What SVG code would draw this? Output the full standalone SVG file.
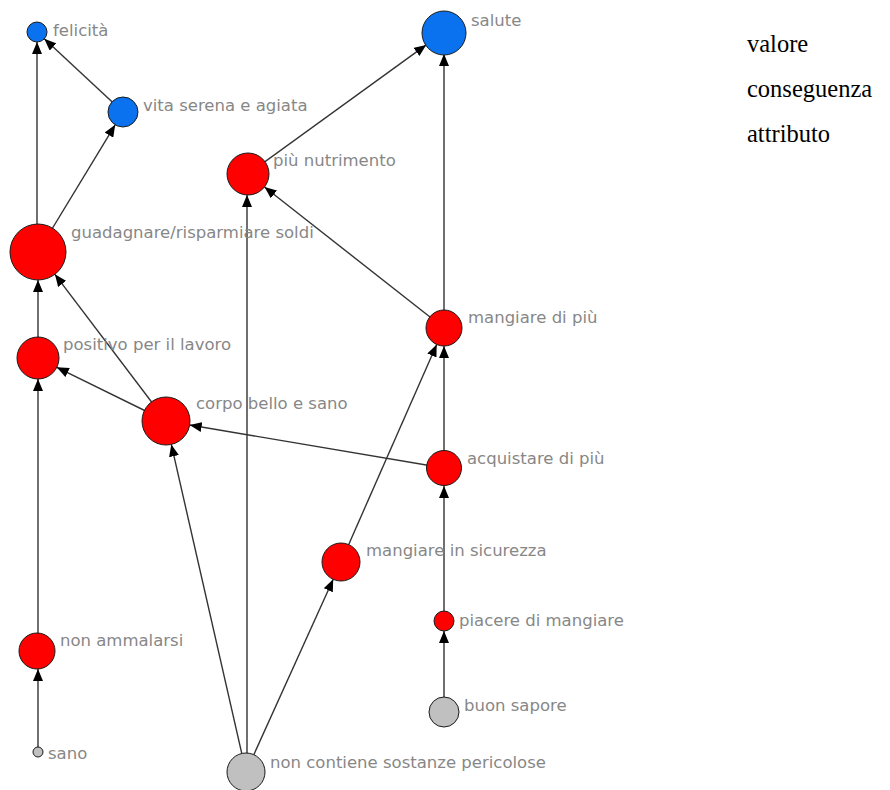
<svg xmlns="http://www.w3.org/2000/svg" width="890" height="790" viewBox="0 0 890 790">
  <defs>
    <marker id="arrow" markerUnits="userSpaceOnUse" markerWidth="12" markerHeight="10" refX="12" refY="5" orient="auto">
      <path d="M0,0 L12,5 L0,10 Z" fill="#000"/>
    </marker>
    <style>
      .edge { stroke: #333; stroke-width: 1.4; fill: none; marker-end: url(#arrow); }
      .node circle { stroke: #1a1a1a; stroke-width: 1; }
      .valore circle { fill: #0a72ee; }
      .conseguenza circle { fill: #ff0000; }
      .attributo circle { fill: #c0c0c0; }
      .node text { font-family: "DejaVu Sans", Tahoma, sans-serif; font-size: 16.5px; fill: #878787; }
      .legend { font-family: "Liberation Serif", "Times New Roman", serif; font-size: 24.5px; fill: #000; }
    </style>
  </defs>
  <rect width="890" height="790" fill="#fff"/>

  <!-- connectors (drawn beneath the nodes) -->
  <g id="connectors">
    <line class="edge" x1="123" y1="112" x2="44.3" y2="38.8"/>
    <line class="edge" x1="37" y1="224" x2="37" y2="42"/>
    <line class="edge" x1="38" y1="252" x2="115.2" y2="124.8"/>
    <line class="edge" x1="248" y1="174" x2="426.2" y2="44.9"/>
    <line class="edge" x1="444" y1="328" x2="444" y2="54"/>
    <line class="edge" x1="444" y1="328" x2="264.5" y2="187"/>
    <line class="edge" x1="38" y1="358" x2="38" y2="280"/>
    <line class="edge" x1="166" y1="421" x2="54.9" y2="274.3"/>
    <line class="edge" x1="166" y1="421" x2="56.8" y2="367.3"/>
    <line class="edge" x1="444" y1="468" x2="189.7" y2="425"/>
    <line class="edge" x1="444" y1="468" x2="444" y2="346"/>
    <line class="edge" x1="247" y1="772" x2="247" y2="195"/>
    <line class="edge" x1="246" y1="772" x2="171.3" y2="444.4"/>
    <line class="edge" x1="246" y1="772" x2="333.2" y2="579.3"/>
    <line class="edge" x1="341" y1="562" x2="436.7" y2="344.5"/>
    <line class="edge" x1="444" y1="621" x2="444" y2="486"/>
    <line class="edge" x1="444" y1="712" x2="444" y2="631"/>
    <line class="edge" x1="38" y1="651" x2="38" y2="379"/>
    <line class="edge" x1="38" y1="752" x2="38" y2="669"/>
  </g>

  <!-- values -->
  <g id="felicita" class="node valore"><circle cx="37" cy="32" r="10"/><text x="53" y="36">felicità</text></g>
  <g id="vita-serena" class="node valore"><circle cx="123" cy="112" r="15"/><text x="143" y="111">vita serena e agiata</text></g>
  <g id="salute" class="node valore"><circle cx="444" cy="33" r="22"/><text x="471" y="26">salute</text></g>

  <!-- consequences -->
  <g id="piu-nutrimento" class="node conseguenza"><circle cx="248" cy="174" r="21"/><text x="273" y="166">più nutrimento</text></g>
  <g id="guadagnare" class="node conseguenza"><circle cx="38" cy="252" r="28"/><text x="71" y="238">guadagnare/risparmiare soldi</text></g>
  <g id="positivo-lavoro" class="node conseguenza"><circle cx="38" cy="358" r="21"/><text x="63" y="350">positivo per il lavoro</text></g>
  <g id="corpo-bello" class="node conseguenza"><circle cx="166" cy="421" r="24"/><text x="196" y="409">corpo bello e sano</text></g>
  <g id="mangiare-piu" class="node conseguenza"><circle cx="444" cy="328" r="18"/><text x="468" y="323">mangiare di più</text></g>
  <g id="acquistare-piu" class="node conseguenza"><circle cx="444" cy="468" r="17.5"/><text x="467" y="464">acquistare di più</text></g>
  <g id="mangiare-sicurezza" class="node conseguenza"><circle cx="341" cy="562" r="19"/><text x="366" y="556">mangiare in sicurezza</text></g>
  <g id="piacere-mangiare" class="node conseguenza"><circle cx="444" cy="621" r="10"/><text x="459" y="626">piacere di mangiare</text></g>
  <g id="non-ammalarsi" class="node conseguenza"><circle cx="37" cy="651" r="18"/><text x="60" y="646">non ammalarsi</text></g>

  <!-- attributes -->
  <g id="buon-sapore" class="node attributo"><circle cx="444" cy="712" r="15"/><text x="464" y="711">buon sapore</text></g>
  <g id="non-contiene" class="node attributo"><circle cx="246" cy="772" r="19"/><text x="270" y="768">non contiene sostanze pericolose</text></g>
  <g id="sano" class="node attributo"><circle cx="38" cy="752" r="5"/><text x="48" y="759">sano</text></g>

  <!-- legend -->
  <g id="legend">
    <text class="legend" x="747" y="52">valore</text>
    <text class="legend" x="747" y="97">conseguenza</text>
    <text class="legend" x="747" y="142">attributo</text>
  </g>
</svg>
